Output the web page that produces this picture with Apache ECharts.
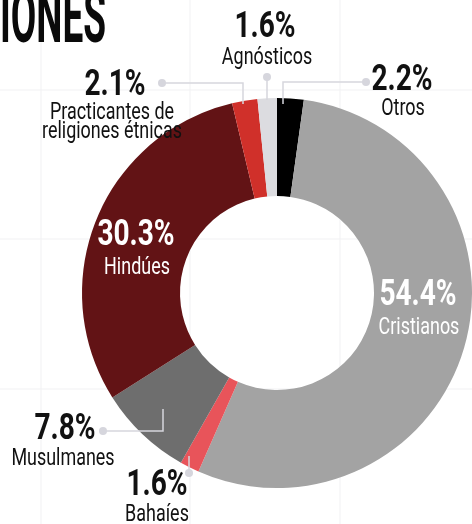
<!DOCTYPE html>
<html>
<head>
<meta charset="utf-8">
<script src="https://cdn.jsdelivr.net/npm/echarts@6/dist/echarts.min.js"></script>
<style>
html,body{margin:0;padding:0;background:#ffffff;}
#chart{width:472px;height:524px;}
</style>
</head>
<body>
<div id="chart"></div>
<script>
// ---- data ----
const categories = ['Otros', 'Cristianos', 'Bahaíes', 'Musulmanes', 'Hindúes', 'Practicantes de\nreligiones étnicas', 'Agnósticos'];
const values = [2.2, 54.4, 1.6, 7.8, 30.3, 2.1, 1.6];
const colors = ['#000000', '#a3a3a3', '#e8545a', '#6e6e6e', '#621315', '#d0302a', '#dcdce0'];
const titleText = 'IONES';

// ---- layout (label placement only) ----
const labelPos = {
  'Otros':      {num: [402, 81],  name: [403, 109], color: '#111'},
  'Cristianos': {num: [418, 296], name: [419, 328], color: '#fff'},
  'Bahaíes':    {num: [157, 486], name: [157, 515], color: '#111'},
  'Musulmanes': {num: [65, 430],  name: [63, 459],  color: '#111'},
  'Hindúes':    {num: [136, 236], name: [137, 268], color: '#fff'},
  'Practicantes de\nreligiones étnicas': {num: [115, 86], name: [112, 123], color: '#111'},
  'Agnósticos': {num: [265, 28],  name: [267, 58],  color: '#111'}
};
const leaders = [
  {pts: [[283, 104], [283, 82], [366, 82]], dot: [366, 82]},
  {pts: [[243, 104], [243, 83], [162, 83]], dot: [162, 83]},
  {pts: [[267, 100], [267, 77]], dot: [267, 77]},
  {pts: [[163, 409], [163, 431], [103, 431]], dot: [103, 431]},
  {pts: [[189, 456], [189, 473]], dot: [189, 473]}
];

const FONT = "Roboto, 'Liberation Sans', sans-serif";
const graphics = [];

// faint background grid
const gridX = [41, 190, 340];
const gridY = [90, 239, 389];
gridX.forEach(x => graphics.push({type: 'line', z: 0, shape: {x1: x, y1: 0, x2: x, y2: 524}, style: {stroke: '#f1f1f3', lineWidth: 1}}));
gridY.forEach(y => graphics.push({type: 'line', z: 0, shape: {x1: 0, y1: y, x2: 472, y2: y}, style: {stroke: '#f1f1f3', lineWidth: 1}}));

// title
graphics.push({
  type: 'text', x: 0, y: 23, scaleX: 0.5, z: 100,
  style: {text: titleText, fill: '#0a0a0a', font: 'bold 74px ' + FONT, align: 'left', verticalAlign: 'middle'}
});

// leader lines
leaders.forEach(l => {
  graphics.push({type: 'polyline', z: 50, shape: {points: l.pts}, style: {stroke: '#d6d6dd', lineWidth: 1.5, fill: null}});
  graphics.push({type: 'circle', z: 50, shape: {cx: l.dot[0], cy: l.dot[1], r: 4}, style: {fill: '#d6d6dd'}});
});

// labels built from the data
categories.forEach((c, i) => {
  const p = labelPos[c];
  graphics.push({
    type: 'text', x: p.num[0], y: p.num[1], scaleX: 0.78, z: 100,
    style: {text: values[i].toFixed(1) + '%', fill: p.color, font: 'bold 36px ' + FONT, align: 'center', verticalAlign: 'middle'}
  });
  graphics.push({
    type: 'text', x: p.name[0], y: p.name[1], scaleX: 0.78, z: 100,
    style: {text: c, fill: p.color, font: '23px ' + FONT, align: 'center', verticalAlign: 'middle', lineHeight: 19}
  });
});

const chart = echarts.init(document.getElementById('chart'), null, {renderer: 'canvas'});
chart.setOption({
  animation: false,
  backgroundColor: '#ffffff',
  graphic: {elements: graphics},
  series: [{
    type: 'pie',
    z: 10,
    center: [277, 293],
    radius: [97, 195],
    startAngle: 90,
    clockwise: true,
    avoidLabelOverlap: false,
    label: {show: false},
    labelLine: {show: false},
    emphasis: {disabled: true},
    itemStyle: {borderWidth: 0},
    data: categories.map((c, i) => ({name: c, value: values[i], itemStyle: {color: colors[i]}}))
  }]
});
</script>
</body>
</html>
